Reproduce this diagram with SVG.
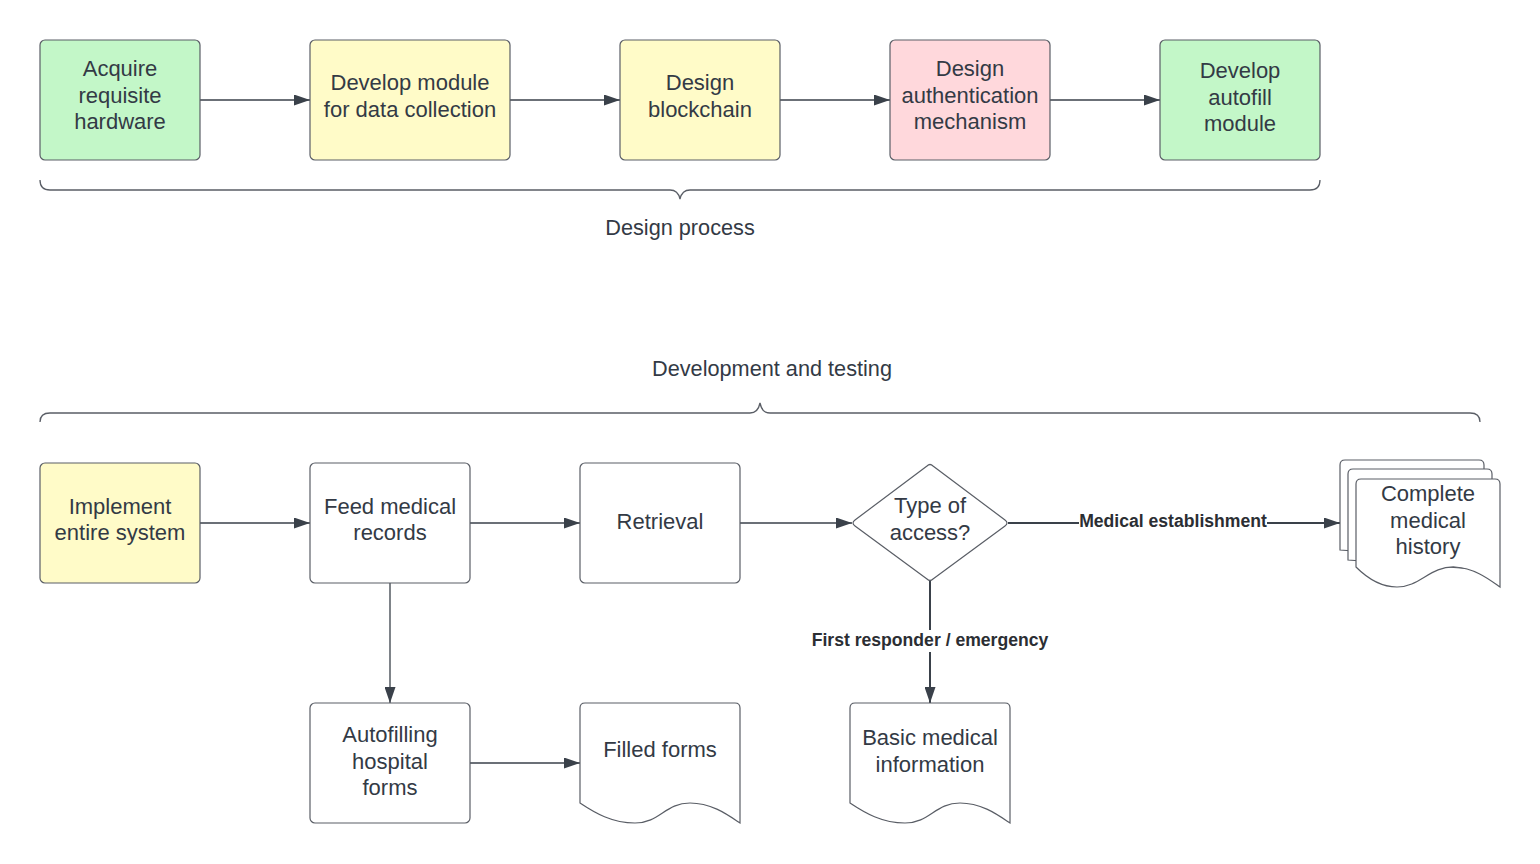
<svg xmlns="http://www.w3.org/2000/svg" width="1540" height="864" viewBox="0 0 1540 864">
<defs>
<marker id="ah" viewBox="0 0 16 11" refX="16" refY="5.5" markerWidth="16" markerHeight="11" markerUnits="userSpaceOnUse" orient="auto">
<path d="M0,0 L16,5.5 L0,11 Z" fill="#3a414a"/>
</marker>
<style>
.box{stroke:#5a5e66;stroke-width:1.2}
.g{fill:#c3f7c8}.y{fill:#fffbc8}.p{fill:#ffd8dc}.w{fill:#ffffff}
.t{font-family:"Liberation Sans",Arial,sans-serif;font-size:22px;fill:#333a45;text-anchor:middle}
.h{font-family:"Liberation Sans",Arial,sans-serif;font-size:21.7px;fill:#333a45;text-anchor:middle}
.b{font-family:"Liberation Sans",Arial,sans-serif;font-size:17.6px;font-weight:bold;fill:#2b2e33;text-anchor:middle}
.c{stroke:#3a414a;stroke-width:1.3;fill:none}
.br{stroke:#5a5e66;stroke-width:1.3;fill:none}
</style>
</defs>
<rect width="1540" height="864" fill="#ffffff"/>

<g id="connectors">
<line class="c" x1="200" y1="100" x2="310" y2="100" marker-end="url(#ah)"/>
<line class="c" x1="510" y1="100" x2="620" y2="100" marker-end="url(#ah)"/>
<line class="c" x1="780" y1="100" x2="890" y2="100" marker-end="url(#ah)"/>
<line class="c" x1="1050" y1="100" x2="1160" y2="100" marker-end="url(#ah)"/>
<line class="c" x1="200" y1="523" x2="310" y2="523" marker-end="url(#ah)"/>
<line class="c" x1="470" y1="523" x2="580" y2="523" marker-end="url(#ah)"/>
<line class="c" x1="740" y1="523" x2="852" y2="523" marker-end="url(#ah)"/>
<line class="c" x1="390" y1="583" x2="390" y2="703" marker-end="url(#ah)"/>
<line class="c" x1="470" y1="763" x2="580" y2="763" marker-end="url(#ah)"/>
<line class="c" x1="930" y1="581" x2="930" y2="703" marker-end="url(#ah)" style="stroke-width:2"/>
<line class="c" x1="1008" y1="523" x2="1340" y2="523" marker-end="url(#ah)" style="stroke-width:2"/>
<rect x="1079" y="511" width="188" height="22" fill="#ffffff"/>
<text class="b" x="1173" y="527">Medical establishment</text>
<rect x="811" y="630" width="238" height="22" fill="#ffffff"/>
<text class="b" x="930" y="646">First responder / emergency</text>
</g>

<g id="brace-design">
<path class="br" d="M40,180 Q40,190 50,190 L670,190 Q678,190 680,199 Q682,190 690,190 L1310,190 Q1320,190 1320,180"/>
<text class="h" x="680" y="235">Design process</text>
</g>
<g id="brace-dev">
<path class="br" d="M40,422 Q40,413 50,413 L750,413 Q758,413 760,403 Q762,413 770,413 L1470,413 Q1480,413 1480,422"/>
<text class="h" x="772" y="376">Development and testing</text>
</g>

<g id="n1"><rect class="box g" x="40" y="40" width="160" height="120" rx="5"/>
<text class="t" x="120" y="76">Acquire</text><text class="t" x="120" y="103">requisite</text><text class="t" x="120" y="129">hardware</text></g>
<g id="n2"><rect class="box y" x="310" y="40" width="200" height="120" rx="5"/>
<text class="t" x="410" y="90">Develop module</text><text class="t" x="410" y="117">for data collection</text></g>
<g id="n3"><rect class="box y" x="620" y="40" width="160" height="120" rx="5"/>
<text class="t" x="700" y="90">Design</text><text class="t" x="700" y="117">blockchain</text></g>
<g id="n4"><rect class="box p" x="890" y="40" width="160" height="120" rx="5"/>
<text class="t" x="970" y="76">Design</text><text class="t" x="970" y="103">authentication</text><text class="t" x="970" y="129">mechanism</text></g>
<g id="n5"><rect class="box g" x="1160" y="40" width="160" height="120" rx="5"/>
<text class="t" x="1240" y="78">Develop</text><text class="t" x="1240" y="105">autofill</text><text class="t" x="1240" y="131">module</text></g>

<g id="n6"><rect class="box y" x="40" y="463" width="160" height="120" rx="5"/>
<text class="t" x="120" y="514">Implement</text><text class="t" x="120" y="540">entire system</text></g>
<g id="n7"><rect class="box w" x="310" y="463" width="160" height="120" rx="5"/>
<text class="t" x="390" y="514">Feed medical</text><text class="t" x="390" y="540">records</text></g>
<g id="n8"><rect class="box w" x="580" y="463" width="160" height="120" rx="5"/>
<text class="t" x="660" y="529">Retrieval</text></g>
<g id="n9"><path class="box w" stroke-linejoin="round" d="M927,466 Q930,463 933,466 L1005,520 Q1009,523 1005,526 L933,579 Q930,582 927,579 L855,526 Q851,523 855,520 Z"/>
<text class="t" x="930" y="513">Type of</text><text class="t" x="930" y="540">access?</text></g>
<g id="n10">
<path class="box w" d="M1340,550 L1340,465 Q1340,460 1345,460 L1479,460 Q1484,460 1484,465 L1484,560 Z"/>
<path class="box w" d="M1348,560 L1348,474 Q1348,469 1353,469 L1487,469 Q1492,469 1492,474 L1492,570 Z"/>
<path class="box w" d="M1356,567 L1356,484 Q1356,479 1361,479 L1495,479 Q1500,479 1500,484 L1500,587 C1490,580 1475,568 1455,567 C1430,566 1420,587 1397,587 C1380,587 1365,576 1356,567 Z"/>
<text class="t" x="1428" y="501">Complete</text><text class="t" x="1428" y="528">medical</text><text class="t" x="1428" y="554">history</text></g>
<g id="n11"><rect class="box w" x="310" y="703" width="160" height="120" rx="5"/>
<text class="t" x="390" y="742">Autofilling</text><text class="t" x="390" y="769">hospital</text><text class="t" x="390" y="795">forms</text></g>
<g id="n12"><path class="box w" d="M580,803 L580,708 Q580,703 585,703 L735,703 Q740,703 740,708 L740,823 C728,815 712,803 690,803 C665,803 660,823 635,823 C612,823 595,813 580,803 Z"/>
<text class="t" x="660" y="757">Filled forms</text></g>
<g id="n13"><path class="box w" d="M850,803 L850,708 Q850,703 855,703 L1005,703 Q1010,703 1010,708 L1010,823 C998,815 982,803 960,803 C935,803 930,823 905,823 C882,823 865,813 850,803 Z"/>
<text class="t" x="930" y="745">Basic medical</text><text class="t" x="930" y="772">information</text></g>
</svg>
